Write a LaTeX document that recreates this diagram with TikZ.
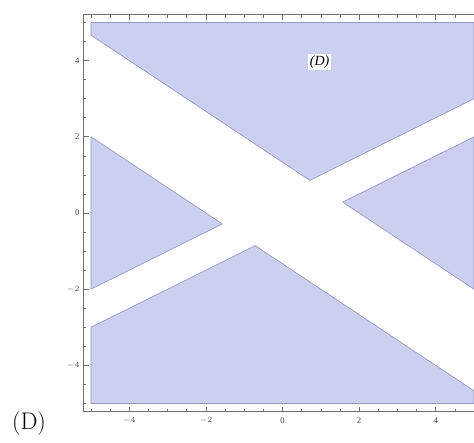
\documentclass[tikz,border=0pt]{standalone}
\usepackage{fontspec}
\newfontfamily\timesf{Liberation Serif}
\definecolor{regfill}{RGB}{203,207,240}
\definecolor{regedge}{RGB}{150,150,192}
\definecolor{framecol}{RGB}{110,110,110}
\definecolor{labcol}{RGB}{70,70,70}
\tikzset{
  region/.style={fill=regfill, draw=regedge, line width=0.5pt, line join=round},
  framestyle/.style={draw=framecol, line width=0.6pt},
  tickmark/.style={draw=framecol, line width=0.45pt},
  ticklabel/.style={text=labcol, font=\timesf\fontsize{6.5}{7}\selectfont, inner sep=1pt}
}
\begin{document}
\begin{tikzpicture}[x=0.75pt,y=0.75pt]
\useasboundingbox (0,0) rectangle (474,-442);
\fill[white] (0,0) rectangle (474,-442);
\clip (0,0) rectangle (474,-442);
\node[font=\fontsize{18}{20}\selectfont, inner sep=0pt] (outerlabel) at (29,-424) {(D)};
\begin{scope}[shift={(211.875pt,-159.75pt)}, x=28.725pt, y=28.575pt]
  % shaded regions
  \filldraw[region] (-5,5) -- (5,5) -- (5,3) -- (5/7,6/7) -- (-5,14/3) -- cycle;
  \filldraw[region] (5,-5) -- (-5,-5) -- (-5,-3) -- (-5/7,-6/7) -- (5,-14/3) -- cycle;
  \filldraw[region] (-5,2) -- (-5,-2) -- (-11/7,-2/7) -- cycle;
  \filldraw[region] (5,-2) -- (5,2) -- (11/7,2/7) -- cycle;
  % frame
  \draw[framestyle] (-5.2,-5.22) rectangle (5.2,5.2);
  % minor ticks
  \foreach \t in {-5,-4.5,...,5.01} {
    \draw[tickmark] (\t,-5.22) -- ++(0,0.07);
    \draw[tickmark] (\t,5.2) -- ++(0,-0.07);
    \draw[tickmark] (-5.2,\t) -- ++(0.07,0);
    \draw[tickmark] (5.2,\t) -- ++(-0.07,0);
  }
  % major ticks and labels
  \foreach \t/\l in {-4/$-4$,-2/$-2$,0/0,2/2,4/4} {
    \draw[tickmark] (\t,-5.22) -- ++(0,0.14);
    \draw[tickmark] (\t,5.2) -- ++(0,-0.14);
    \draw[tickmark] (-5.2,\t) -- ++(0.14,0);
    \draw[tickmark] (5.2,\t) -- ++(-0.14,0);
    \node[ticklabel, anchor=north] (xl\t) at (\t,-5.33) {\l};
    \node[ticklabel, anchor=east] (yl\t) at (-5.26,\t) {\l};
  }
  \node[fill=white, inner sep=1.5pt, font=\timesf\itshape\fontsize{10.5}{12}\selectfont] (dlabel) at (0.97,3.96) {(D)};
\end{scope}
\end{tikzpicture}
\end{document}
